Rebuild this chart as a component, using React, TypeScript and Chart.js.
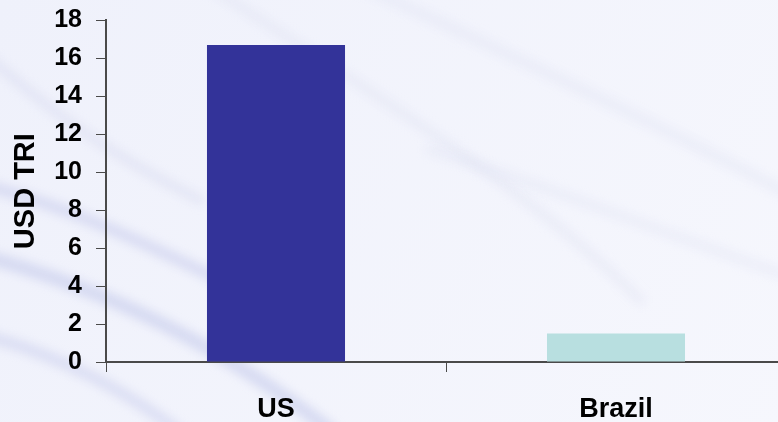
import React, { useEffect, useRef } from "react";
import { Chart, registerables } from "chart.js";

Chart.register(...registerables);

const categories = ["US", "Brazil"];
const values = [16.7, 1.5];
const barColors = ["#333399", "#b8dfe0"];
const yTitle = "USD TRI";
const yMin = 0;
const yMax = 18;
const yStep = 2;

const bgPlugin = {
  id: "swirlBg",
  beforeDraw(chart: any) {
    const { ctx, width, height } = chart;
    ctx.save();
    const g = ctx.createLinearGradient(0, 0, width, height);
    g.addColorStop(0, "#eff1fb");
    g.addColorStop(1, "#f6f7fd");
    ctx.fillStyle = g;
    ctx.fillRect(0, 0, width, height);
    ctx.lineCap = "round";
    ctx.filter = "blur(5px)";
    const bands = [
      [-40, 180, 60, 200, 160, 250, 260, 300, 12, "rgba(190,195,232,0.45)"],
      [-40, 250, 80, 280, 200, 330, 330, 430, 14, "rgba(185,190,230,0.45)"],
      [-40, 330, 60, 350, 140, 400, 190, 440, 12, "rgba(190,195,232,0.4)"],
      [-20, 50, 60, 120, 120, 160, 200, 200, 10, "rgba(205,208,236,0.35)"],
      [200, -20, 350, 80, 520, 180, 640, 300, 10, "rgba(215,218,240,0.3)"],
      [350, -20, 520, 60, 650, 120, 800, 200, 12, "rgba(220,222,242,0.3)"],
      [430, 150, 560, 190, 680, 240, 800, 280, 10, "rgba(220,222,242,0.3)"],
    ];
    for (const b of bands) {
      ctx.beginPath();
      ctx.moveTo(b[0] as number, b[1] as number);
      ctx.bezierCurveTo(b[2] as number, b[3] as number, b[4] as number, b[5] as number, b[6] as number, b[7] as number);
      ctx.lineWidth = b[8] as number;
      ctx.strokeStyle = b[9] as string;
      ctx.stroke();
    }
    ctx.restore();
  },
};

export default function App() {
  const ref = useRef<HTMLCanvasElement>(null);
  useEffect(() => {
    document.body.style.margin = "0";
    document.body.style.overflow = "hidden";
    const chart = new Chart(ref.current!, {
      type: "bar",
      data: {
        labels: categories,
        datasets: [
          {
            data: values,
            backgroundColor: barColors,
            borderWidth: 0,
            categoryPercentage: 1,
            barPercentage: 0.406,
          },
        ],
      },
      plugins: [bgPlugin],
      options: {
        animation: false,
        responsive: false,
        maintainAspectRatio: false,
        layout: { padding: { top: 16, right: 4, left: 0, bottom: 0 } },
        plugins: { legend: { display: false }, tooltip: { enabled: false } },
        scales: {
          x: {
            grid: {
              offset: true,
              drawOnChartArea: false,
              drawTicks: true,
              tickLength: 10,
              color: "#4a4a4a",
            },
            border: { display: true, color: "#4a4a4a", width: 2 },
            ticks: {
              color: "#000000",
              padding: 21,
              font: { family: "'Liberation Sans', Arial, sans-serif", size: 27, weight: "bold" },
            },
            afterFit(axis: any) {
              axis.height = 60;
            },
          },
          y: {
            min: yMin,
            max: yMax,
            grid: {
              drawOnChartArea: false,
              drawTicks: true,
              tickLength: 10,
              color: "#4a4a4a",
            },
            border: { display: true, color: "#4a4a4a", width: 2 },
            ticks: {
              stepSize: yStep,
              color: "#000000",
              padding: 14,
              font: { family: "'Liberation Sans', Arial, sans-serif", size: 25, weight: "bold", lineHeight: 0.5 },
            },
            title: {
              display: true,
              text: yTitle,
              color: "#000000",
              padding: { top: 9, bottom: 0 },
              font: { family: "'Liberation Sans', Arial, sans-serif", size: 29, weight: "bold" },
            },
            afterFit(axis: any) {
              axis.width = 106;
            },
          },
        },
      },
    });
    return () => chart.destroy();
  }, []);
  return (
    <div style={{ position: "fixed", left: 0, top: 0, width: 778, height: 422, overflow: "hidden" }}>
      <canvas ref={ref} width={790} height={422} style={{ width: 790, height: 422 }} />
    </div>
  );
}
